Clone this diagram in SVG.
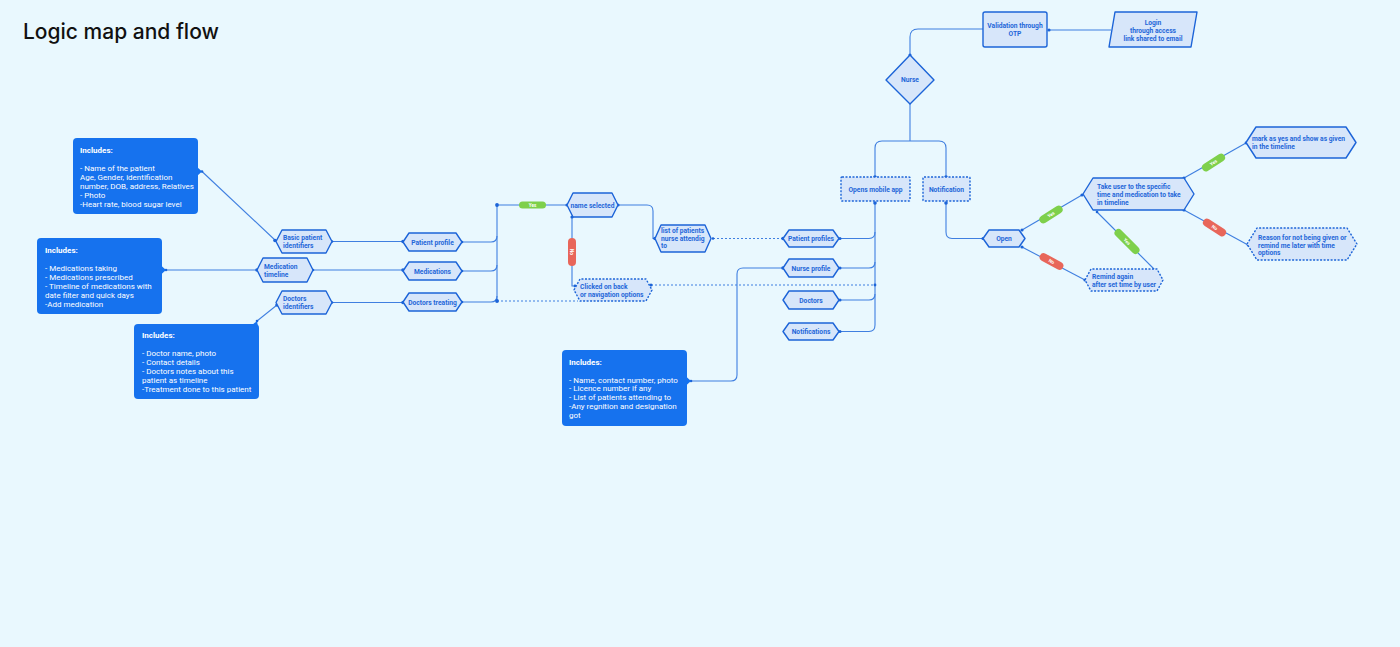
<svg xmlns="http://www.w3.org/2000/svg" width="1400" height="647" viewBox="0 0 1400 647">
<style>
.bg{fill:#E9F8FE}
.n{fill:#D7E6FA;stroke:#1C64D8;stroke-width:1.4;stroke-linejoin:round}
.d{stroke-dasharray:2 1.5}
.t{font-family:Roboto,"Liberation Sans",sans-serif;font-weight:700;font-size:6.7px;fill:#1F66D9}
.c{text-anchor:middle}
.box{fill:#1672EE}
.bt{font-family:Roboto,"Liberation Sans",sans-serif;font-size:8px;fill:#FFFFFF}
.bh{font-weight:700}
.ln{fill:none;stroke:#3F7FE0;stroke-width:1.1}
.dl{stroke-dasharray:2 2}
.dot{fill:#1C64D8}
.py{fill:#7ED04B}
.pn{fill:#E8665A}
.pt{font-family:Roboto,"Liberation Sans",sans-serif;font-weight:700;font-size:4.6px;fill:#FFFFFF;text-anchor:middle}
</style>
<rect class="bg" x="0" y="0" width="1400" height="647"/>
<text x="23" y="39" font-family="Inter,'Liberation Sans',sans-serif" font-size="21" font-weight="500" fill="#111111">Logic map and flow</text>

<g id="connectors">
<path class="ln" d="M1111,30 H1049"/>
<path class="ln" d="M983,29 H918 Q910,29 910,37 V55"/>
<path class="ln" d="M910,104 V141"/>
<path class="ln" d="M875,177 V148 Q875,141 882,141 H939 Q946,141 946,148 V177"/>
<path class="ln" d="M875,203 V325 Q875,331.5 869,331.5 H840"/>
<path class="ln" d="M875,232 Q875,238.5 869,238.5 H840"/>
<path class="ln" d="M875,262 Q875,268 869,268 H840"/>
<path class="ln" d="M875,294 Q875,300 869,300 H840"/>
<path class="ln dl" d="M651,285 H875"/>
<path class="ln dl" d="M713,238.5 H783"/>
<path class="ln" d="M618,205 H647 Q653,205 653,211 V238.5 H655"/>
<path class="ln" d="M497,205 V301"/>
<path class="ln" d="M497,205 H567"/>
<path class="ln" d="M462,242 H491 Q497,242 497,236"/>
<path class="ln" d="M462,271 H491 Q497,271 497,265"/>
<path class="ln" d="M462,302 H491 Q497,302 497,296"/>
<path class="ln dl" d="M497,301 H578"/>
<path class="ln" d="M572,217 V286 H575"/>
<path class="ln" d="M332,241.5 H403"/>
<path class="ln" d="M313,270 H403"/>
<path class="ln" d="M332,302.5 H403"/>
<path class="ln" d="M202,171.5 L276,241"/>
<path class="ln" d="M166,270 H257"/>
<path class="ln" d="M257,321 L277,305"/>
<path class="ln" d="M691,381 H731 Q737,381 737,375 V274 Q737,268 743,268 H783"/>
<path class="ln" d="M946,203 V232 Q946,238.5 952,238.5 H983"/>
<path class="ln" d="M1022,230 L1082,195"/>
<path class="ln" d="M1022,247 L1085,280"/>
<path class="ln" d="M1184,178 L1246,143"/>
<path class="ln" d="M1184,210 L1248,245"/>
<path class="ln" d="M1097,212 L1156,271"/>
<g>
<circle class="dot" cx="1049" cy="30" r="1.6"/>
<circle class="dot" cx="910" cy="55" r="1.6"/>
<circle class="dot" cx="875" cy="177" r="1.8"/>
<circle class="dot" cx="946" cy="177" r="1.8"/>
<circle class="dot" cx="875" cy="203" r="1.8"/>
<circle class="dot" cx="946" cy="203" r="1.8"/>
<circle class="dot" cx="840" cy="238.5" r="1.5"/>
<circle class="dot" cx="840" cy="268" r="1.5"/>
<circle class="dot" cx="840" cy="300" r="1.5"/>
<circle class="dot" cx="840" cy="331.5" r="1.5"/>
<circle class="dot" cx="875" cy="285" r="1.4"/>
<circle class="dot" cx="651" cy="285" r="1.6"/>
<circle class="dot" cx="783" cy="238.5" r="1.8"/>
<circle class="dot" cx="783" cy="268" r="1.8"/>
<circle class="dot" cx="713" cy="238.5" r="1.3"/>
<circle class="dot" cx="655" cy="238.5" r="1.8"/>
<circle class="dot" cx="618" cy="205" r="1.6"/>
<circle class="dot" cx="567" cy="205" r="1.6"/>
<circle class="dot" cx="572" cy="217" r="1.6"/>
<circle class="dot" cx="575" cy="286" r="1.4"/>
<circle class="dot" cx="497" cy="205" r="1.9"/>
<circle class="dot" cx="497" cy="301" r="1.9"/>
<circle class="dot" cx="462" cy="242" r="1.3"/>
<circle class="dot" cx="462" cy="271" r="1.3"/>
<circle class="dot" cx="462" cy="302" r="1.3"/>
<circle class="dot" cx="403" cy="241.5" r="1.8"/>
<circle class="dot" cx="403" cy="270" r="1.8"/>
<circle class="dot" cx="403" cy="302.5" r="1.8"/>
<circle class="dot" cx="332" cy="241.5" r="1.3"/>
<circle class="dot" cx="313" cy="270" r="1.3"/>
<circle class="dot" cx="332" cy="302.5" r="1.3"/>
<circle class="dot" cx="275" cy="240.5" r="1.8"/>
<circle class="dot" cx="202" cy="171.5" r="1.3"/>
<circle class="dot" cx="257" cy="270" r="1.8"/>
<circle class="dot" cx="166" cy="270" r="1.3"/>
<circle class="dot" cx="277" cy="305" r="1.8"/>
<circle class="dot" cx="257" cy="321" r="1.3"/>
<circle class="dot" cx="691" cy="381" r="1.3"/>
<circle class="dot" cx="983" cy="238.5" r="1.6"/>
<circle class="dot" cx="1022" cy="230" r="1.6"/>
<circle class="dot" cx="1022" cy="247" r="1.6"/>
<circle class="dot" cx="1082" cy="195" r="1.6"/>
<circle class="dot" cx="1085" cy="280" r="1.6"/>
<circle class="dot" cx="1184" cy="178" r="1.6"/>
<circle class="dot" cx="1184" cy="210" r="1.6"/>
<circle class="dot" cx="1246" cy="143" r="1.4"/>
<circle class="dot" cx="1248" cy="245" r="1.4"/>
<circle class="dot" cx="1156" cy="271" r="1.8"/>
<circle class="dot" cx="1097" cy="212" r="1.3"/>
</g>
<g id="labels">
<rect class="py" x="519" y="201.5" width="27" height="7" rx="3.5"/>
<text class="pt" x="532.5" y="206.8">Yes</text>
<rect class="pn" x="568" y="238" width="8" height="28" rx="4"/>
<text class="pt" transform="translate(572,252) rotate(90)" y="1.6">No</text>
<g transform="translate(1051,214.5) rotate(-32)"><rect class="py" x="-13" y="-4" width="26" height="8" rx="4"/><text class="pt" y="1.6">Yes</text></g>
<g transform="translate(1051.5,261.5) rotate(29)"><rect class="pn" x="-13" y="-4" width="26" height="8" rx="4"/><text class="pt" y="1.6">No</text></g>
<g transform="translate(1213.5,162.5) rotate(-33)"><rect class="py" x="-13" y="-4" width="26" height="8" rx="4"/><text class="pt" y="1.6">Yes</text></g>
<g transform="translate(1214.5,227.5) rotate(33)"><rect class="pn" x="-13" y="-4" width="26" height="8" rx="4"/><text class="pt" y="1.6">No</text></g>
<g transform="translate(1127,241.5) rotate(45)"><rect class="py" x="-16" y="-4" width="32" height="8" rx="4"/><text class="pt" y="1.6">Yes</text></g>
</g>
</g>

<g id="login">
<polygon class="n" points="1115,12 1197,12 1191,47 1109,47"/>
<text class="t c" x="1153" y="25">Login</text>
<text class="t c" x="1153" y="32.5">through access</text>
<text class="t c" x="1153" y="40.5">link shared to email</text>
</g>
<g id="validation">
<rect class="n" x="983" y="12" width="64" height="35" rx="2"/>
<text class="t c" x="1015" y="28">Validation through</text>
<text class="t c" x="1015" y="36">OTP</text>
</g>
<g id="nurse">
<polygon class="n" points="910,55 934,80 910,104 886,80"/>
<text class="t c" x="910" y="82">Nurse</text>
</g>
<g id="opens-mobile-app">
<rect class="n d" x="841" y="177" width="69" height="24" rx="1"/>
<text class="t c" x="875.5" y="192">Opens mobile app</text>
</g>
<g id="notification">
<rect class="n d" x="923" y="177" width="47" height="24" rx="1"/>
<text class="t c" x="946.5" y="192">Notification</text>
</g>
<g id="patient-profiles">
<polygon class="n" points="783,238.5 789,230 833,230 839,238.5 833,247 789,247"/>
<text class="t c" x="811" y="241">Patient profiles</text>
</g>
<g id="nurse-profile">
<polygon class="n" points="783,268 789,259 833,259 839,268 833,277 789,277"/>
<text class="t c" x="811" y="270.5">Nurse profile</text>
</g>
<g id="doctors">
<polygon class="n" points="783,300 789,291 833,291 839,300 833,309 789,309"/>
<text class="t c" x="811" y="302.5">Doctors</text>
</g>
<g id="notifications">
<polygon class="n" points="783,331.5 789,323 833,323 839,331.5 833,340 789,340"/>
<text class="t c" x="811" y="334">Notifications</text>
</g>
<g id="list-of-patients">
<polygon class="n" points="655,238.5 661,225 705,225 711,238.5 705,252 661,252"/>
<text class="t" x="661" y="233">list of patients</text>
<text class="t" x="661" y="240.5">nurse attendig</text>
<text class="t" x="661" y="248">to</text>
</g>
<g id="name-selected">
<polygon class="n" points="567,205 573,193 612,193 618,205 612,217 573,217"/>
<text class="t c" x="592.5" y="207.5">name selected</text>
</g>
<g id="clicked-on-back">
<polygon class="n d" points="574,290 580,279 646,279 652,290 646,301 580,301"/>
<text class="t" x="580" y="289">Clicked on back</text>
<text class="t" x="580" y="297">or navigation options</text>
</g>
<g id="patient-profile">
<polygon class="n" points="403,242 409,233 456,233 462,242 456,251 409,251"/>
<text class="t c" x="432.5" y="244.5">Patient profile</text>
</g>
<g id="medications">
<polygon class="n" points="403,271 409,262 456,262 462,271 456,280 409,280"/>
<text class="t c" x="432.5" y="273.5">Medications</text>
</g>
<g id="doctors-treating">
<polygon class="n" points="403,302 409,293 456,293 462,302 456,311 409,311"/>
<text class="t c" x="432.5" y="304.5">Doctors treating</text>
</g>
<g id="basic-patient-identifiers">
<polygon class="n" points="276,241.5 282,230 326,230 332,241.5 326,253 282,253"/>
<text class="t" x="283" y="240">Basic patient</text>
<text class="t" x="283" y="248">identifiers</text>
</g>
<g id="medication-timeline">
<polygon class="n" points="257,270 263,258 307,258 313,270 307,282 263,282"/>
<text class="t" x="264" y="269">Medication</text>
<text class="t" x="264" y="277">timeline</text>
</g>
<g id="doctors-identifiers">
<polygon class="n" points="276,302.5 282,291 326,291 332,302.5 326,314 282,314"/>
<text class="t" x="283" y="301">Doctors</text>
<text class="t" x="283" y="309">identifiers</text>
</g>
<g id="open">
<polygon class="n" points="983,238.5 989,230 1019,230 1025,238.5 1019,247 989,247"/>
<text class="t c" x="1004" y="241">Open</text>
</g>
<g id="take-user">
<polygon class="n" points="1083,194 1093,178 1184,178 1194,194 1184,210 1093,210"/>
<text class="t" x="1097" y="189">Take user to the specific</text>
<text class="t" x="1097" y="197">time and medication to take</text>
<text class="t" x="1097" y="205">in timeline</text>
</g>
<g id="mark-as-yes">
<polygon class="n" points="1246,142.5 1256,127 1346,127 1356,142.5 1346,158 1256,158"/>
<text class="t" x="1252" y="140.5">mark as yes and show as given</text>
<text class="t" x="1252" y="148.5">in the timeline</text>
</g>
<g id="reason">
<polygon class="n d" points="1247,244 1257,228 1347,228 1357,244 1347,260 1257,260"/>
<text class="t" x="1258" y="239.5">Reason for not being given or</text>
<text class="t" x="1258" y="247.5">remind me later with time</text>
<text class="t" x="1258" y="255">options</text>
</g>
<g id="remind-again">
<polygon class="n d" points="1085,280 1091,269 1157,269 1163,280 1157,291 1091,291"/>
<text class="t" x="1092" y="278.5">Remind again</text>
<text class="t" x="1092" y="286.5">after set time by user</text>
</g>

<g id="includes-patient">
<rect class="box" x="73" y="138" width="125" height="76" rx="4"/>
<polygon class="box" points="197,167 202,171.5 197,176"/>
<text class="bt bh" x="80" y="152.5">Includes:</text>
<text class="bt" x="80" y="170.5">- Name of the patient</text>
<text class="bt" x="80" y="179.5">Age, Gender, identification</text>
<text class="bt" x="80" y="188.5">number, DOB, address, Relatives</text>
<text class="bt" x="80" y="197.5">- Photo</text>
<text class="bt" x="80" y="206.5">-Heart rate, blood sugar level</text>
</g>
<g id="includes-medication">
<rect class="box" x="37" y="238" width="125" height="76" rx="4"/>
<polygon class="box" points="161,265.5 166,270 161,274.5"/>
<text class="bt bh" x="45" y="252.5">Includes:</text>
<text class="bt" x="45" y="270.5">- Medications taking</text>
<text class="bt" x="45" y="279.5">- Medications prescribed</text>
<text class="bt" x="45" y="288.5">- Timeline of medications with</text>
<text class="bt" x="45" y="297.5">date filter and quick days</text>
<text class="bt" x="45" y="306.5">-Add medication</text>
</g>
<g id="includes-doctor">
<rect class="box" x="134" y="324" width="125" height="75" rx="4"/>
<polygon class="box" points="252,325 257,321 258,327"/>
<text class="bt bh" x="142" y="337.5">Includes:</text>
<text class="bt" x="142" y="356">- Doctor name, photo</text>
<text class="bt" x="142" y="365">- Contact details</text>
<text class="bt" x="142" y="374">- Doctors notes about this</text>
<text class="bt" x="142" y="383">patient as timeline</text>
<text class="bt" x="142" y="392">-Treatment done to this patient</text>
</g>
<g id="includes-nurse">
<rect class="box" x="562" y="350" width="125" height="76" rx="4"/>
<polygon class="box" points="686,376.5 691,381 686,385.5"/>
<text class="bt bh" x="569" y="364.5">Includes:</text>
<text class="bt" x="569" y="382.5">- Name, contact number, photo</text>
<text class="bt" x="569" y="391.3">- Licence number if any</text>
<text class="bt" x="569" y="400">- List of patients attending to</text>
<text class="bt" x="569" y="408.8">-Any regnition and designation</text>
<text class="bt" x="569" y="417.6">got</text>
</g>
</svg>
